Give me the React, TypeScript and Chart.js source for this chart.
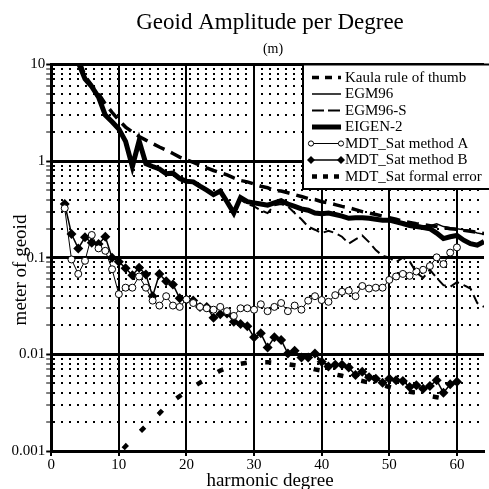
import React, { useEffect, useRef } from 'react';
import { Chart, registerables } from 'chart.js';

Chart.register(...registerables);

const SERIF = '"Liberation Serif", "Times New Roman", Times, serif';

const chartTitle = 'Geoid Amplitude per Degree';
const chartSubtitle = '(m)';
const xAxisTitle = 'harmonic degree';
const yAxisTitle = 'meter of geoid';

const seriesNames = [
  'Kaula rule of thumb',
  'EGM96',
  'EGM96-S',
  'EIGEN-2',
  'MDT_Sat method A',
  'MDT_Sat method B',
  'MDT_Sat formal error',
];

const xTicks = [0, 10, 20, 30, 40, 50, 60];
const yMajorTicks = [0.001, 0.01, 0.1, 1, 10];
const yTickLabels = ['0.001', '0.01', '0.1', '1', '10'];

const degreesModel = [2, 3, 4, 5, 6, 7, 8, 9, 10, 11, 12, 13, 14, 15, 16, 17, 18, 19, 20, 21, 22, 23, 24, 25, 26, 27, 28, 29, 30, 31, 32, 33, 34, 35, 36, 37, 38, 39, 40, 41, 42, 43, 44, 45, 46, 47, 48, 49, 50, 51, 52, 53, 54, 55, 56, 57, 58, 59, 60, 61, 62, 63, 64];

const kaula = [40, 20, 12, 7.6, 6.1, 5.0, 3.9, 3.2, 2.65,
  2.25, 2.0, 1.8, 1.65, 1.52, 1.4, 1.3, 1.2, 1.1, 1.03,
  0.97, 0.91, 0.85, 0.8, 0.76, 0.72, 0.67, 0.63, 0.61, 0.58,
  0.55, 0.53, 0.5, 0.49, 0.47, 0.45, 0.43, 0.41, 0.4, 0.38,
  0.37, 0.355, 0.34, 0.33, 0.315, 0.3, 0.29, 0.28, 0.27, 0.26,
  0.25, 0.24, 0.232, 0.225, 0.22, 0.215, 0.21, 0.205, 0.2, 0.197,
  0.192, 0.188, 0.183, 0.178];

const egm96 = [30, 18, 10.5, 7.1, 5.9, 4.6, 3.05, 2.55, 2.15,
  1.6, 0.9, 1.6, 0.95, 0.88, 0.83, 0.75, 0.75, 0.66, 0.62,
  0.61, 0.55, 0.5, 0.45, 0.49, 0.38, 0.3, 0.42, 0.38, 0.37,
  0.36, 0.35, 0.37, 0.39, 0.36, 0.34, 0.32, 0.31, 0.295, 0.29,
  0.295, 0.285, 0.275, 0.26, 0.265, 0.265, 0.26, 0.25, 0.245, 0.245,
  0.24, 0.235, 0.225, 0.22, 0.215, 0.215, 0.225, 0.21, 0.205, 0.2,
  0.195, 0.19, 0.18, 0.175];

const egm96s = [30, 18, 10.5, 7.1, 5.9, 4.6, 3.05, 2.55, 2.15,
  1.6, 0.9, 1.6, 0.95, 0.88, 0.83, 0.75, 0.75, 0.66, 0.62,
  0.61, 0.55, 0.5, 0.45, 0.49, 0.38, 0.3, 0.4, 0.36, 0.34,
  0.31, 0.29, 0.35, 0.36, 0.34, 0.29, 0.25, 0.21, 0.195, 0.18,
  0.19, 0.18, 0.165, 0.14, 0.155, 0.17, 0.145, 0.12, 0.105, 0.1,
  0.09, 0.1, 0.092, 0.07, 0.062, 0.075, 0.062, 0.052, 0.05, 0.056,
  0.052, 0.048, 0.034, 0.031];

const eigen2 = [30, 18, 10.5, 7.1, 5.9, 4.6, 3.0, 2.55, 2.15,
  1.6, 0.88, 1.62, 0.94, 0.88, 0.83, 0.74, 0.75, 0.66, 0.62,
  0.61, 0.55, 0.5, 0.45, 0.49, 0.38, 0.29, 0.42, 0.38, 0.37,
  0.36, 0.35, 0.37, 0.39, 0.36, 0.34, 0.32, 0.31, 0.29, 0.285,
  0.29, 0.28, 0.27, 0.256, 0.26, 0.26, 0.256, 0.25, 0.245, 0.245,
  0.235, 0.226, 0.215, 0.21, 0.205, 0.2, 0.18, 0.158, 0.165, 0.17,
  0.152, 0.14, 0.135, 0.147];

const degreesMDT = [2, 3, 4, 5, 6, 7, 8, 9, 10, 11, 12, 13, 14, 15, 16, 17, 18, 19, 20, 21, 22, 23, 24, 25, 26, 27, 28, 29, 30, 31, 32, 33, 34, 35, 36, 37, 38, 39, 40, 41, 42, 43, 44, 45, 46, 47, 48, 49, 50, 51, 52, 53, 54, 55, 56, 57, 58, 59, 60];

const mdtA = [0.325, 0.096, 0.068, 0.093, 0.172, 0.125, 0.118, 0.076, 0.042,
  0.049, 0.049, 0.064, 0.049, 0.036, 0.032, 0.04, 0.032, 0.031, 0.037,
  0.034, 0.031, 0.03, 0.029, 0.031, 0.028, 0.025, 0.03, 0.03, 0.029,
  0.033, 0.028, 0.031, 0.034, 0.028, 0.032, 0.029, 0.036, 0.04, 0.0365,
  0.035, 0.041, 0.0445, 0.0456, 0.04, 0.051, 0.048, 0.049, 0.049, 0.059,
  0.064, 0.068, 0.065, 0.072, 0.075, 0.082, 0.101, 0.086, 0.113, 0.128];

const mdtB = [0.36, 0.176, 0.125, 0.163, 0.143, 0.139, 0.165, 0.1, 0.091,
  0.078, 0.066, 0.079, 0.067, 0.04, 0.068, 0.057, 0.053, 0.038, 0.037,
  0.036, 0.031, 0.031, 0.024, 0.026, 0.0265, 0.0218, 0.0206, 0.0196, 0.015,
  0.0165, 0.0118, 0.015, 0.0141, 0.0102, 0.0109, 0.0093, 0.0093, 0.0102, 0.0084,
  0.0075, 0.0078, 0.0078, 0.0073, 0.0061, 0.0066, 0.0058, 0.0056, 0.0051, 0.0056,
  0.0054, 0.0053, 0.0046, 0.0048, 0.0044, 0.0047, 0.0054, 0.004, 0.0049, 0.0052];

const degreesErr = [9, 10, 11, 12, 13, 14, 15, 16, 17, 18, 19, 20, 21, 22, 23, 24, 25, 26, 27, 28, 29, 30, 31, 32, 33, 34, 35, 36, 37, 38, 39, 40, 41, 42, 43, 44, 45, 46, 47, 48, 49, 50, 51, 52, 53, 54, 55, 56, 57, 58, 59, 60];

const formalErr = [0.00079, 0.00095,
  0.00112, 0.00132, 0.00155, 0.00182, 0.0021, 0.00245, 0.0029, 0.0033, 0.0037, 0.0041,
  0.0046, 0.0051, 0.0056, 0.0062, 0.0068, 0.0072, 0.0076, 0.008, 0.0082, 0.0083,
  0.0083, 0.0083, 0.0082, 0.0081, 0.0079, 0.0077, 0.0075, 0.0073, 0.007, 0.0068,
  0.0065, 0.0062, 0.006, 0.0058, 0.0055, 0.0053, 0.0051, 0.0049, 0.0048, 0.0046,
  0.0044, 0.0043, 0.0041, 0.004, 0.0039, 0.0037, 0.0036, 0.0035, 0.0034, 0.0033];

const legendWidths = [3.5, 1.5, 2, 5, 1, 1.5, 4.5];
const legendDashes = [[7, 6], [], [12, 4], [], [], [], [5, 6]];

const pts = (xs: number[], ys: number[]) => xs.map((x, i) => ({ x, y: ys[i] }));

const decorPlugin = {
  id: 'decor',
  afterDraw(chart: any) {
    const ctx = chart.ctx as CanvasRenderingContext2D;
    ctx.save();
    ctx.fillStyle = 'black';
    ctx.textAlign = 'center';
    ctx.textBaseline = 'alphabetic';
    ctx.font = `23px ${SERIF}`;
    ctx.fillText(chartTitle, 270, 28.5);
    ctx.font = `14px ${SERIF}`;
    ctx.fillText(chartSubtitle, 273, 52.5);
    ctx.font = `19px ${SERIF}`;
    ctx.fillText(xAxisTitle, 270, 486);
    ctx.save();
    ctx.translate(21, 270);
    ctx.rotate(-Math.PI / 2);
    ctx.textBaseline = 'middle';
    ctx.fillText(yAxisTitle, 0, 0);
    ctx.restore();

    // legend box
    const bx0 = 303, by0 = 64.5, bx1 = 492, by1 = 189;
    ctx.fillStyle = 'white';
    ctx.fillRect(bx0, by0, bx1 - bx0, by1 - by0);
    ctx.strokeStyle = 'black';
    ctx.lineWidth = 2;
    ctx.strokeRect(bx0, by0, bx1 - bx0, by1 - by0);

    ctx.font = `15px ${SERIF}`;
    ctx.textAlign = 'left';
    ctx.textBaseline = 'middle';
    seriesNames.forEach((name, i) => {
      const y = 77.5 + 16.5 * i;
      const x0 = 312, x1 = 341;
      ctx.save();
      ctx.strokeStyle = 'black';
      ctx.lineWidth = legendWidths[i];
      ctx.setLineDash(legendDashes[i]);
      ctx.beginPath();
      ctx.moveTo(x0, y);
      ctx.lineTo(x1, y);
      ctx.stroke();
      ctx.setLineDash([]);
      if (i === 4) {
        [x0 - 1, x1].forEach((px) => {
          ctx.beginPath();
          ctx.arc(px, y, 2.6, 0, Math.PI * 2);
          ctx.fillStyle = 'white';
          ctx.fill();
          ctx.lineWidth = 1;
          ctx.stroke();
        });
      }
      if (i === 5) {
        [x0 - 1, x1].forEach((px) => {
          ctx.beginPath();
          ctx.moveTo(px, y - 4);
          ctx.lineTo(px + 4, y);
          ctx.lineTo(px, y + 4);
          ctx.lineTo(px - 4, y);
          ctx.closePath();
          ctx.fillStyle = 'black';
          ctx.fill();
        });
      }
      ctx.restore();
      ctx.fillStyle = 'black';
      ctx.fillText(name, 345, y + 0.5);
    });
    ctx.restore();
  },
};

export default function App() {
  const ref = useRef<HTMLCanvasElement>(null);
  useEffect(() => {
    document.body.style.margin = '0';
    const canvas = ref.current!;
    const base = { borderColor: 'black', backgroundColor: 'black', fill: false, tension: 0, pointRadius: 0, clip: 0 };
    const chart = new Chart(canvas, {
      type: 'line',
      data: {
        datasets: [
          { ...base, label: seriesNames[0], data: pts(degreesModel, kaula), borderWidth: 3.5, borderDash: [12, 7] },
          { ...base, label: seriesNames[1], data: pts(degreesModel, egm96), borderWidth: 1.5 },
          { ...base, label: seriesNames[2], data: pts(degreesModel, egm96s), borderWidth: 2, borderDash: [10, 5] },
          { ...base, label: seriesNames[3], data: pts(degreesModel, eigen2), borderWidth: 5 },
          {
            ...base, label: seriesNames[4], data: pts(degreesMDT, mdtA), borderWidth: 1,
            pointStyle: 'circle', pointRadius: 3.5, pointBackgroundColor: 'white', pointBorderColor: 'black', pointBorderWidth: 1,
          },
          {
            ...base, label: seriesNames[5], data: pts(degreesMDT, mdtB), borderWidth: 1.5,
            pointStyle: 'rectRot', pointRadius: 5, pointBackgroundColor: 'black', pointBorderColor: 'black', pointBorderWidth: 0,
          },
          { ...base, label: seriesNames[6], data: pts(degreesErr, formalErr), borderWidth: 4.5, borderDash: [6, 18.5], borderDashOffset: 8 },
        ] as any,
      },
      options: {
        responsive: false,
        animation: false,
        devicePixelRatio: 1,
        events: [],
        layout: { padding: { top: 64.5, left: 0, right: 0, bottom: 0 } },
        plugins: { legend: { display: false }, tooltip: { enabled: false }, title: { display: false } },
        scales: {
          x: {
            type: 'linear',
            min: 0,
            max: 64,
            afterFit: (s: any) => { s.height = 38; },
            afterBuildTicks: (s: any) => { s.ticks = xTicks.map((v) => ({ value: v })); },
            ticks: { color: 'black', font: { family: SERIF, size: 15 }, padding: 0, autoSkip: false, maxRotation: 0, callback: (v: any) => String(v) },
            grid: { color: 'black', lineWidth: 2, tickLength: 5, tickColor: 'black', tickWidth: 2 },
            border: { display: true, color: 'black', width: 3 },
          },
          y: {
            type: 'logarithmic',
            min: 0.001,
            max: 10,
            afterFit: (s: any) => { s.width = 51.2; },
            afterBuildTicks: (s: any) => {
              const t: any[] = [];
              yMajorTicks.forEach((m, k) => {
                t.push({ value: m, major: true });
                if (k < yMajorTicks.length - 1) {
                  for (let j = 2; j <= 9; j++) t.push({ value: m * j, major: false });
                }
              });
              s.ticks = t;
            },
            ticks: {
              color: 'black',
              font: { family: SERIF, size: 15 },
              padding: 1,
              autoSkip: false,
              callback: (v: any, i: number, ticks: any[]) => {
                if (!ticks[i] || !ticks[i].major) return '';
                const k = yMajorTicks.findIndex((m) => Math.abs(m / Number(v) - 1) < 1e-6);
                return k >= 0 ? yTickLabels[k] : '';
              },
            },
            grid: {
              color: 'black',
              lineWidth: (c: any) => (c.tick && c.tick.major ? 3 : 2),
              tickLength: 5,
              tickColor: 'black',
              tickWidth: (c: any) => (c.tick && c.tick.major ? 2 : 1),
            },
            border: {
              display: true,
              color: 'black',
              width: 3,
              dash: (c: any) => (c.tick && !c.tick.major ? [2, 6] : []),
            },
          },
        },
      } as any,
      plugins: [decorPlugin],
    });
    return () => chart.destroy();
  }, []);
  return <canvas ref={ref} width={489} height={489} style={{ display: 'block', width: 489, height: 489 }} />;
}
